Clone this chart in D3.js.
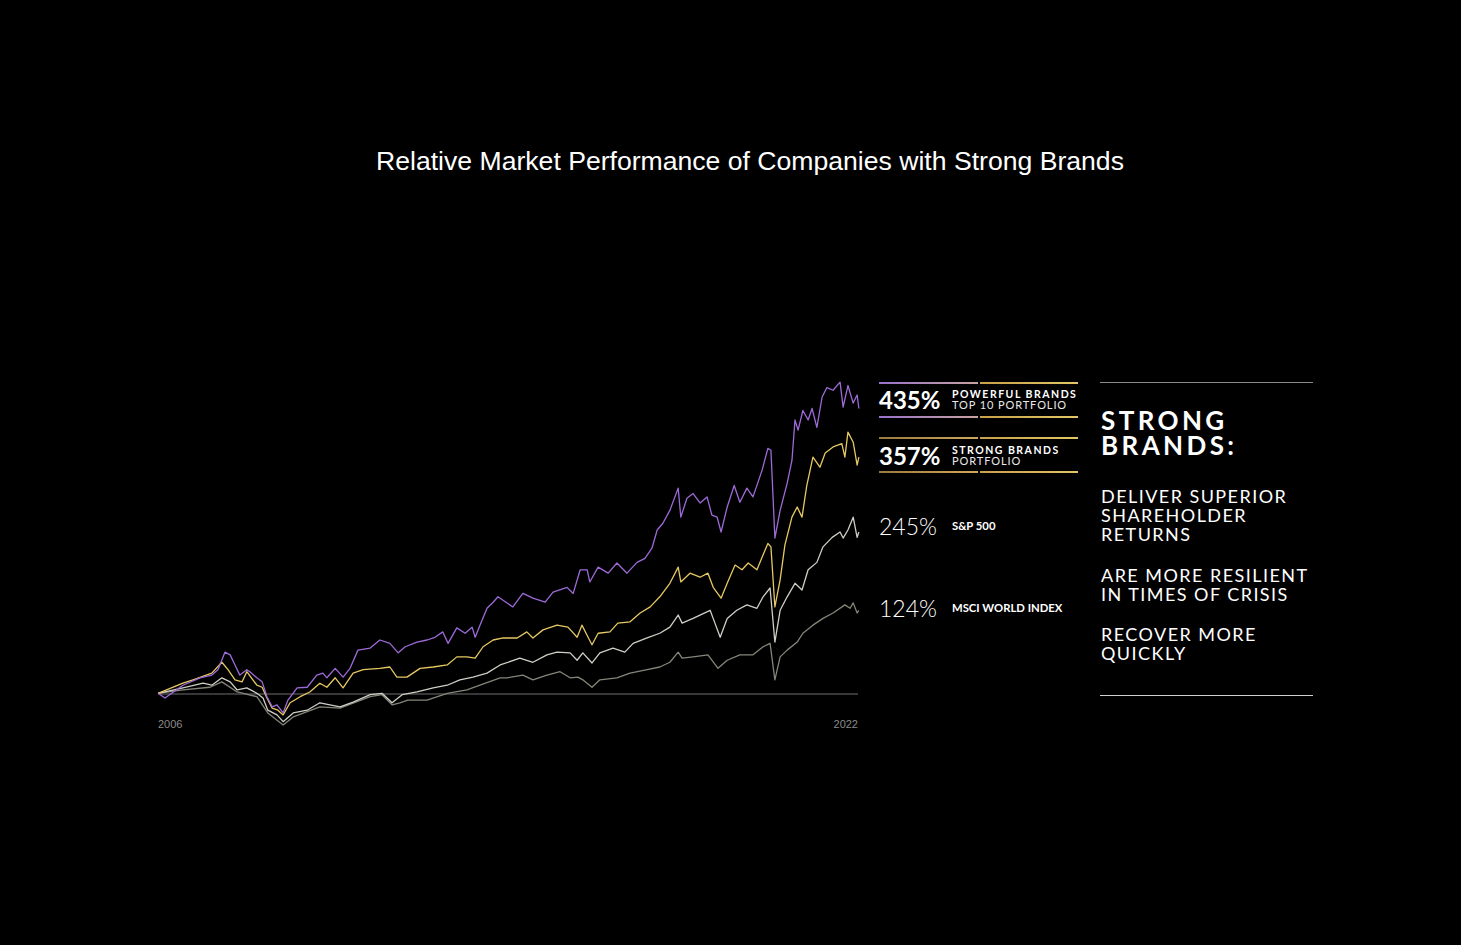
<!DOCTYPE html>
<html><head><meta charset="utf-8">
<script src="https://cdn.jsdelivr.net/npm/d3@7"></script>
<style>html,body{margin:0;padding:0;background:#000;}svg{display:block;}</style>
</head><body>
<svg id="chart" width="1461" height="945"></svg>
<script>
// ---------- data (year, cumulative return %) ----------
const powerfulBrands = [
[2006.00,1],[2006.16,-6],[2006.57,13],[2006.96,24],[2007.23,28],[2007.37,36],[2007.53,62],[2007.65,58],[2007.76,43],[2007.87,28],
[2008.03,36],[2008.10,33],[2008.26,24],[2008.38,18],[2008.49,-4],[2008.61,-19],[2008.72,-16],[2008.86,-28],[2008.97,-9],[2009.18,9],
[2009.41,10],[2009.63,28],[2009.77,31],[2009.86,24],[2010.05,38],[2010.23,25],[2010.39,38],[2010.57,65],[2010.85,68],[2011.07,80],
[2011.30,75],[2011.49,61],[2011.65,70],[2011.92,77],[2012.15,80],[2012.33,84],[2012.51,92],[2012.63,75],[2012.83,98],[2013.02,90],
[2013.18,99],[2013.25,84],[2013.36,102],[2013.52,127],[2013.66,136],[2013.77,144],[2014.11,129],[2014.34,149],[2014.57,142],[2014.85,136],
[2015.03,151],[2015.35,158],[2015.49,149],[2015.65,184],[2015.81,184],[2015.87,166],[2016.06,188],[2016.29,179],[2016.49,194],[2016.72,179],
[2016.95,195],[2017.13,201],[2017.29,216],[2017.41,243],[2017.54,253],[2017.70,272],[2017.89,305],[2017.95,262],[2018.09,290],[2018.23,297],
[2018.39,283],[2018.55,292],[2018.66,265],[2018.78,262],[2018.87,240],[2019.01,277],[2019.17,309],[2019.30,284],[2019.46,305],[2019.60,292],
[2019.81,332],[2019.94,364],[2020.01,361],[2020.10,231],[2020.22,272],[2020.38,312],[2020.49,346],[2020.56,406],[2020.63,391],[2020.74,420],
[2020.86,406],[2020.95,423],[2021.06,395],[2021.18,440],[2021.29,454],[2021.43,450],[2021.59,462],[2021.66,425],[2021.77,457],[2021.89,431],
[2021.98,443],[2022.02,423]
];
const strongBrands = [
[2006.00,1],[2006.57,16],[2006.80,21],[2007.23,31],[2007.46,47],[2007.60,36],[2007.76,21],[2007.92,18],[2008.03,33],[2008.26,13],
[2008.38,10],[2008.49,-6],[2008.61,-21],[2008.74,-24],[2008.86,-31],[2009.02,-13],[2009.25,-4],[2009.47,3],[2009.70,16],[2009.86,10],
[2010.05,24],[2010.23,9],[2010.46,31],[2010.69,36],[2011.07,38],[2011.30,40],[2011.46,25],[2011.69,25],[2011.99,38],[2012.29,40],
[2012.61,43],[2012.83,55],[2013.06,55],[2013.25,53],[2013.43,70],[2013.66,80],[2013.89,83],[2014.21,83],[2014.43,92],[2014.57,83],
[2014.80,95],[2015.12,102],[2015.37,99],[2015.58,84],[2015.69,102],[2015.83,84],[2015.92,73],[2016.06,90],[2016.33,92],[2016.51,105],
[2016.79,107],[2017.02,120],[2017.25,129],[2017.47,144],[2017.70,164],[2017.89,188],[2017.95,166],[2018.16,179],[2018.39,173],[2018.57,179],
[2018.69,158],[2018.87,142],[2019.01,164],[2019.19,191],[2019.35,184],[2019.49,194],[2019.69,184],[2019.81,203],[2019.94,223],[2020.01,218],
[2020.10,129],[2020.22,169],[2020.33,221],[2020.49,262],[2020.61,277],[2020.72,262],[2020.83,309],[2020.97,351],[2021.13,336],[2021.25,357],
[2021.43,366],[2021.63,371],[2021.70,351],[2021.77,388],[2021.89,373],[2021.98,339],[2022.02,351]
];
const sp500 = [
[2006.00,1],[2006.57,9],[2007.03,16],[2007.23,13],[2007.46,24],[2007.65,18],[2007.81,6],[2008.03,9],[2008.26,1],[2008.40,-6],
[2008.51,-24],[2008.72,-31],[2008.86,-41],[2009.09,-28],[2009.41,-24],[2009.70,-13],[2010.16,-19],[2010.46,-12],[2010.85,-1],[2011.12,1],
[2011.35,-13],[2011.58,-1],[2011.92,3],[2012.29,9],[2012.61,13],[2012.90,21],[2013.20,25],[2013.52,31],[2013.82,43],[2014.27,53],
[2014.57,47],[2014.89,58],[2015.12,62],[2015.42,61],[2015.58,50],[2015.71,61],[2015.92,46],[2016.10,61],[2016.40,68],[2016.67,62],
[2016.86,75],[2017.18,83],[2017.47,90],[2017.70,99],[2017.89,117],[2017.98,105],[2018.23,112],[2018.62,124],[2018.73,105],[2018.85,84],
[2019.01,112],[2019.23,124],[2019.46,132],[2019.69,127],[2019.83,144],[2019.99,157],[2020.10,77],[2020.22,124],[2020.38,144],[2020.56,164],
[2020.72,154],[2020.86,184],[2021.06,195],[2021.20,218],[2021.41,232],[2021.59,240],[2021.66,231],[2021.77,243],[2021.89,262],[2021.98,232],
[2022.02,240]
];
const msciWorld = [
[2006.00,1],[2006.57,6],[2007.19,10],[2007.46,18],[2007.81,3],[2008.26,-4],[2008.51,-28],[2008.86,-46],[2009.09,-34],[2009.70,-19],
[2010.16,-21],[2010.85,-4],[2011.12,-1],[2011.35,-16],[2011.53,-13],[2011.71,-9],[2012.15,-9],[2012.61,1],[2013.06,6],[2013.36,13],
[2013.82,24],[2013.98,24],[2014.34,28],[2014.57,21],[2014.89,28],[2015.19,33],[2015.42,24],[2015.60,25],[2015.71,21],[2015.92,10],
[2016.10,21],[2016.49,24],[2016.79,31],[2017.18,36],[2017.47,40],[2017.70,47],[2017.89,62],[2017.98,53],[2018.23,55],[2018.57,58],
[2018.80,38],[2019.01,50],[2019.30,58],[2019.60,58],[2019.83,70],[2019.99,75],[2020.10,21],[2020.22,55],[2020.38,65],[2020.61,77],
[2020.74,90],[2020.97,102],[2021.20,112],[2021.43,120],[2021.70,132],[2021.82,127],[2021.89,135],[2021.98,120],[2022.02,124]
];
const xTickLabels = ["2006", "2022"];
const legendValues = ["435%", "357%", "245%", "124%"];
const legendTitles = ["POWERFUL BRANDS", "STRONG BRANDS", "S&P 500", "MSCI WORLD INDEX"];
const legendSubtitles = ["TOP 10 PORTFOLIO", "PORTFOLIO", "", ""];
const panelHeading = ["STRONG", "BRANDS:"];
const panelPoints = [["DELIVER SUPERIOR", "SHAREHOLDER", "RETURNS"], ["ARE MORE RESILIENT", "IN TIMES OF CRISIS"], ["RECOVER MORE", "QUICKLY"]];
const titleText = "Relative Market Performance of Companies with Strong Brands";

// ---------- drawing ----------
const svg = d3.select("#chart");
const geo = "Lato, 'Noto Sans', sans-serif";

svg.append("text").attr("x", 750).attr("y", 170).attr("text-anchor", "middle")
  .attr("fill", "#fff").attr("font-family", "'Liberation Sans', Arial, sans-serif")
  .attr("font-size", 26.6).text(titleText);

const x = d3.scaleLinear().domain([2006, 2022]).range([158, 858]);
const y = d3.scaleLinear().domain([0, 100]).range([694, 626.5]);

// baseline
svg.append("line").attr("x1", x(2006)).attr("x2", x(2022)).attr("y1", y(0)).attr("y2", y(0))
  .attr("stroke", "#4a4a4a").attr("stroke-width", 1.5);

const line = d3.line().x(d => x(d[0])).y(d => y(d[1]));
const series = [
  {data: msciWorld, color: "#85857a"},
  {data: sp500, color: "#cfcfc6"},
  {data: strongBrands, color: "#e6c862"},
  {data: powerfulBrands, color: "#9d6ad8"}
];
svg.selectAll("path.series").data(series).join("path").attr("class", "series")
  .attr("d", d => line(d.data)).attr("fill", "none")
  .attr("stroke", d => d.color).attr("stroke-width", 1.3).attr("stroke-linejoin", "round");

// x labels
svg.append("text").attr("x", x(2006)).attr("y", 728).attr("fill", "#8a8a8a")
  .attr("font-family", "'Liberation Sans', Arial, sans-serif").attr("font-size", 11).text(xTickLabels[0]);
svg.append("text").attr("x", x(2022)).attr("y", 728).attr("fill", "#8a8a8a").attr("text-anchor", "end")
  .attr("font-family", "'Liberation Sans', Arial, sans-serif").attr("font-size", 11).text(xTickLabels[1]);

// gradients for legend rules
const defs = svg.append("defs");
function grad(id, stops) {
  const g = defs.append("linearGradient").attr("id", id).attr("x1", "0%").attr("x2", "100%");
  stops.forEach(s => g.append("stop").attr("offset", s[0]).attr("stop-color", s[1]));
}
grad("gPurple", [["0%", "#9a72cc"], ["100%", "#c7a3a0"]]);
grad("gGold", [["0%", "#c9a04a"], ["100%", "#e2c766"]]);
grad("gGoldDark", [["0%", "#9c7a3e"], ["100%", "#cfa95a"]]);

function rule(x1, x2, yy, fill) {
  svg.append("rect").attr("x", x1).attr("y", yy - 1).attr("width", x2 - x1).attr("height", 2).attr("fill", fill);
}
rule(879, 978, 383, "url(#gPurple)"); rule(980, 1078, 383, "url(#gGold)");
rule(879, 978, 417, "url(#gPurple)"); rule(980, 1078, 417, "url(#gGold)");
rule(879, 978, 438, "url(#gGoldDark)"); rule(980, 1078, 438, "url(#gGold)");
rule(879, 978, 472, "url(#gGoldDark)"); rule(980, 1078, 472, "url(#gGold)");

const legendY = [409, 465, 535, 617];
legendValues.forEach((v, i) => {
  svg.append("text").attr("x", 879).attr("y", legendY[i]).attr("fill", "#fff")
    .attr("font-family", geo).attr("font-size", i < 2 ? 24 : 23).attr("font-weight", i < 2 ? 700 : 300)
    .text(v);
  if (legendSubtitles[i]) {
    const t = svg.append("text").attr("x", 952).attr("y", legendY[i] - 11)
      .attr("font-family", geo);
    t.append("tspan").attr("x", 952).attr("fill", "#fff").attr("font-size", 10.5).attr("font-weight", 700)
      .attr("letter-spacing", 1.5).text(legendTitles[i]);
    t.append("tspan").attr("x", 952).attr("dy", 10.5).attr("fill", "#e8e8e8").attr("font-size", 11)
      .attr("font-weight", 400).attr("letter-spacing", 0.9).text(legendSubtitles[i]);
  } else {
    svg.append("text").attr("x", 952).attr("y", legendY[i] - 5).attr("fill", "#fff")
      .attr("font-family", geo).attr("font-size", 11.3).attr("font-weight", 700)
      .attr("letter-spacing", 0).text(legendTitles[i]);
  }
});

// right panel
svg.append("line").attr("x1", 1100).attr("x2", 1313).attr("y1", 382.5).attr("y2", 382.5)
  .attr("stroke", "#8a8a8a").attr("stroke-width", 1);
svg.append("line").attr("x1", 1100).attr("x2", 1313).attr("y1", 695.5).attr("y2", 695.5)
  .attr("stroke", "#d0d0d0").attr("stroke-width", 1);

const head = svg.append("text").attr("x", 1101).attr("y", 430).attr("fill", "#fff")
  .attr("font-family", geo).attr("font-size", 26).attr("font-weight", 700).attr("letter-spacing", 3.4);
panelHeading.forEach((t, i) => {
  head.append("tspan").attr("x", 1101).attr("dy", i === 0 ? 0 : 25).text(t);
});
const blockY = [503, 582, 641];
panelPoints.forEach((lines, b) => {
  const t = svg.append("text").attr("x", 1101).attr("y", blockY[b]).attr("fill", "#fff")
    .attr("font-family", geo).attr("font-size", 18).attr("font-weight", 400).attr("letter-spacing", 1.45);
  lines.forEach((s, j) => {
    t.append("tspan").attr("x", 1101).attr("dy", j === 0 ? 0 : 19).text(s);
  });
});
</script>
</body></html>
